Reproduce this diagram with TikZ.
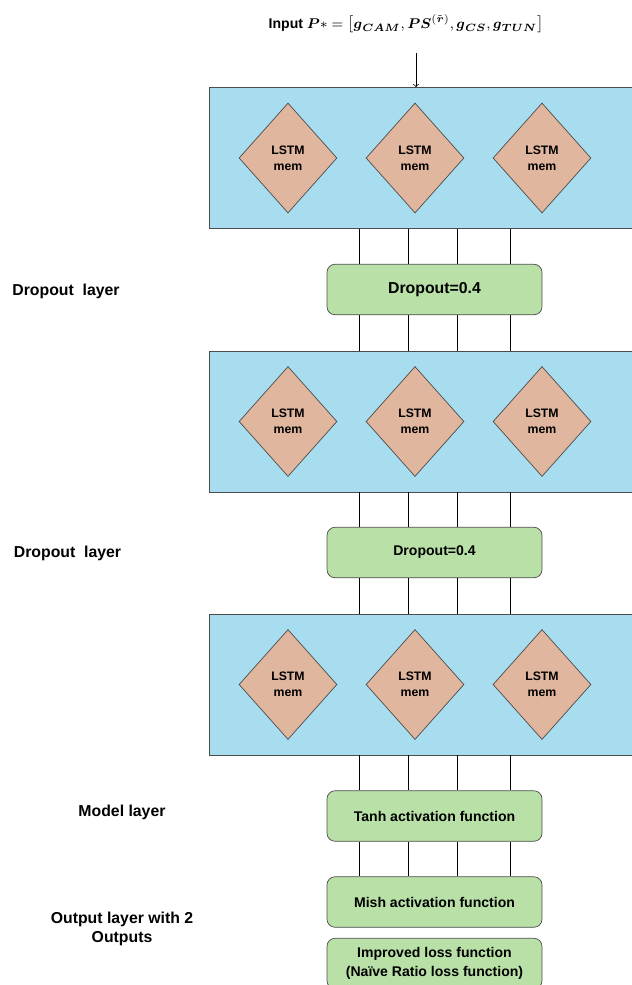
\documentclass[tikz,border=0pt]{standalone}
\usepackage{fontspec}
\setmainfont{Liberation Sans}
\usepackage{amsmath}
\usetikzlibrary{shapes.geometric}
\definecolor{lstmblue}{RGB}{168,221,239}
\definecolor{cellred}{RGB}{225,182,158}
\definecolor{funcgreen}{RGB}{185,225,167}

\begin{document}
\begin{tikzpicture}[x=0.02cm, y=-0.02cm]
	\tikzset{
		layerbox/.style={draw=black!70, fill=lstmblue, minimum width=8.62cm, minimum height=2.82cm, inner sep=0},
		cell/.style={diamond, draw=black!70, fill=cellred, minimum width=1.96cm, minimum height=2.2cm, inner sep=0, align=center, font=\fontsize{7}{9}\selectfont\bfseries},
		funcbox/.style={draw=black!70, fill=funcgreen, rounded corners=0.16cm, minimum width=4.3cm, minimum height=1.01cm, inner sep=0, align=center, font=\fontsize{8}{10.8}\selectfont\bfseries},
		sidelabel/.style={align=center, font=\fontsize{9}{11}\selectfont\bfseries}
	}
	\clip (0, 0) rectangle (632, 985);

	% input
	\node[font=\fontsize{8}{10}\selectfont\bfseries] (input) at (406, 24) {Input $\boldsymbol{P}*=\bigl[\boldsymbol{g}_{\boldsymbol{CAM}}, \boldsymbol{PS}^{(\tilde{\boldsymbol{r}})}, \boldsymbol{g}_{\boldsymbol{CS}}, \boldsymbol{g}_{\boldsymbol{TUN}}\bigr]$};
	\coordinate (inarrow) at (416, 53);

	% lstm layers
	\foreach \n/\y in {A/158, B/421.5, C/684.5} {
		\node[layerbox] (lstm\n) at (424.5, \y) {};
		\foreach \i/\x in {1/288, 2/415, 3/542}
		\node[cell] (cell\n\i) at (\x, \y) {LSTM\\mem};
	}

	\node[funcbox, font=\fontsize{9}{11}\selectfont\bfseries] (dropA) at (434.5, 289.5) {Dropout=0.4};
	\node[funcbox] (dropB) at (434.5, 552.5) {Dropout=0.4};
	\node[funcbox] (tanh) at (434.5, 816) {Tanh activation function};
	\node[funcbox] (mish) at (434.5, 902) {Mish activation function};
	\node[funcbox] (loss) at (434.5, 963.5) {Improved loss function\\(Naïve Ratio loss function)};

	% side labels
	\node[sidelabel] (lbldropA) at (66, 291) {Dropout~ layer};
	\node[sidelabel] (lbldropB) at (67.5, 553) {Dropout~ layer};
	\node[sidelabel] (lblmodel) at (122, 812) {Model layer};
	\node[sidelabel, font=\fontsize{9}{10.8}\selectfont\bfseries] (lbloutput) at (122, 928.5) {Output layer with 2\\Outputs};

	% connectors
	\draw[->] (inarrow) -- (lstmA.north -| inarrow);
	\foreach \x in {359, 408, 457, 510} {
		\draw (lstmA.south -| \x, 0) -- (dropA.north -| \x, 0);
		\draw (dropA.south -| \x, 0) -- (lstmB.north -| \x, 0);
		\draw (lstmB.south -| \x, 0) -- (dropB.north -| \x, 0);
		\draw (dropB.south -| \x, 0) -- (lstmC.north -| \x, 0);
		\draw (lstmC.south -| \x, 0) -- (tanh.north -| \x, 0);
		\draw (tanh.south -| \x, 0) -- (mish.north -| \x, 0);
	}
\end{tikzpicture}
\end{document}
